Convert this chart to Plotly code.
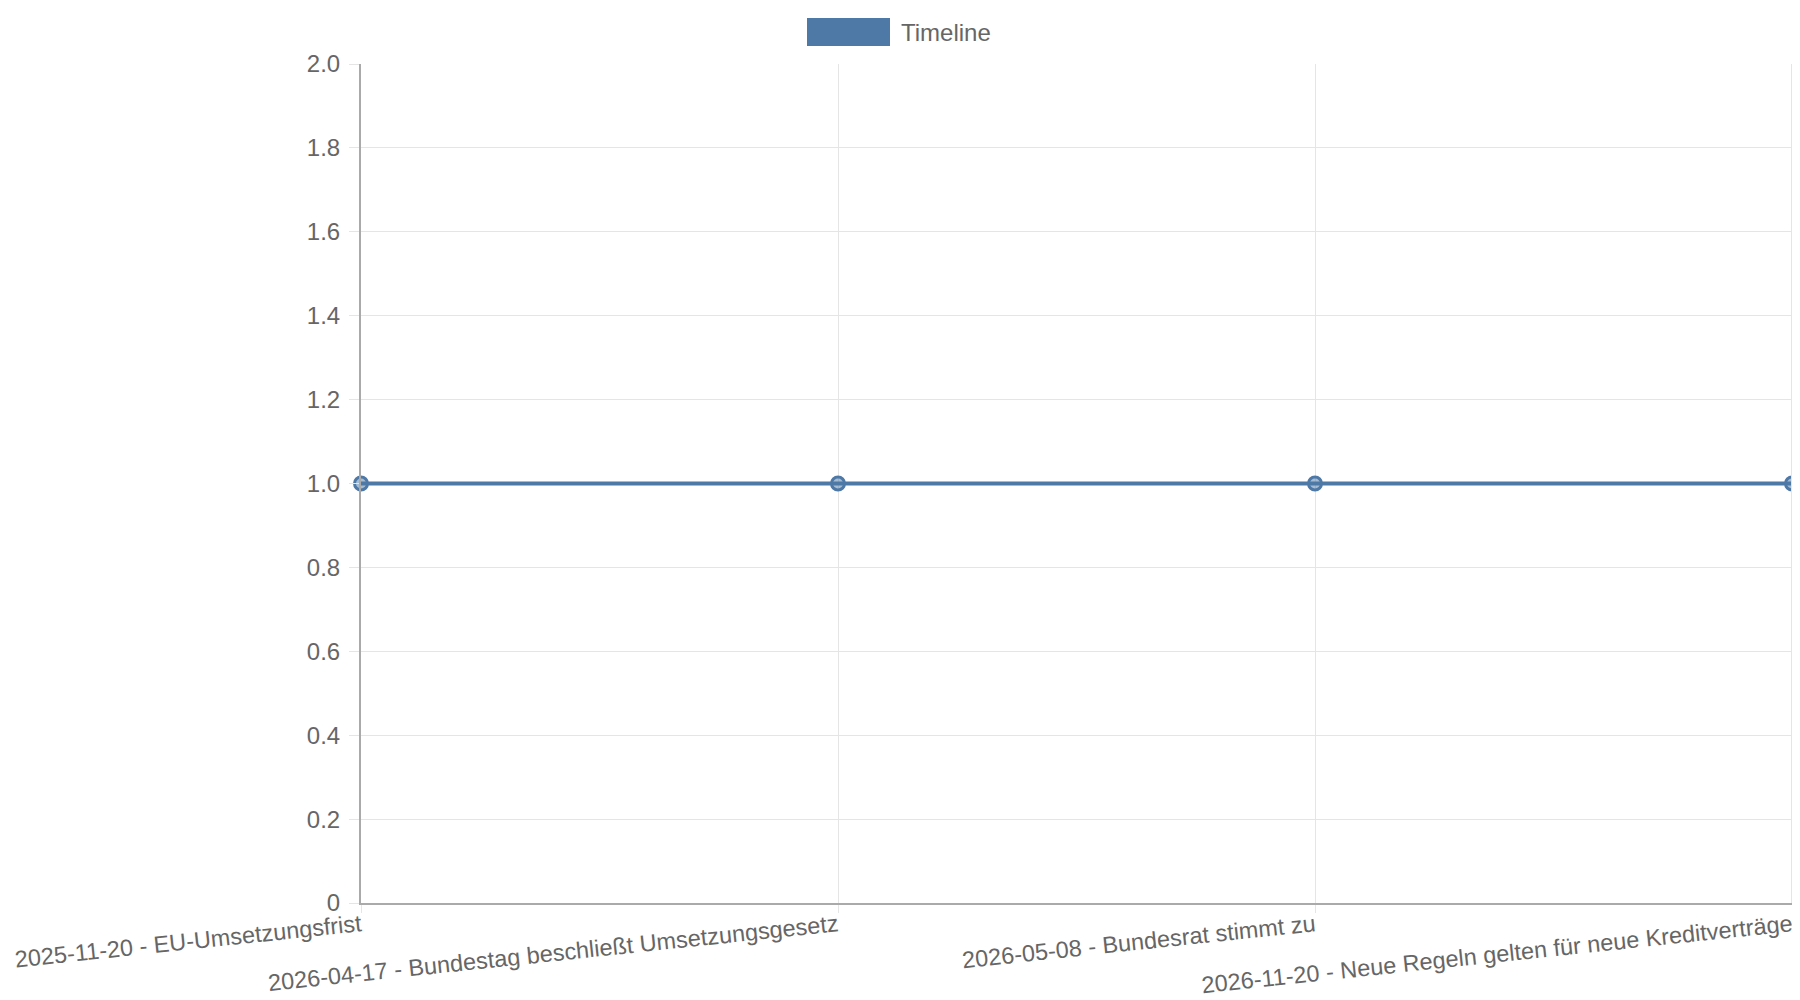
import plotly.graph_objects as go

# Timeline events (category labels) and their plotted value
events = [
    "2025-11-20 - EU-Umsetzungsfrist",
    "2026-04-17 - Bundestag beschließt Umsetzungsgesetz",
    "2026-05-08 - Bundesrat stimmt zu",
    "2026-11-20 - Neue Regeln gelten für neue Kreditverträge",
]
values = [1, 1, 1, 1]

y_tickvals = [0, 0.2, 0.4, 0.6, 0.8, 1.0, 1.2, 1.4, 1.6, 1.8, 2.0]
y_ticktext = ["0", "0.2", "0.4", "0.6", "0.8", "1.0", "1.2", "1.4", "1.6", "1.8", "2.0"]

series_name = "Timeline"
blue = "#4e79a7"
grid = "#e5e5e5"
text_col = "#666666"

W, H = 1800, 1000
ML, MR, MT, MB = 353, 16, 56, 105
plot_w = W - ML - MR
plot_h = H - MT - MB

fig = go.Figure()

fig.add_trace(
    go.Scatter(
        x=list(range(len(events))),
        y=values,
        name=series_name,
        mode="lines+markers",
        cliponaxis=False,
        line=dict(color=blue, width=4),
        marker=dict(
            size=13,
            color="rgba(78,121,167,0.5)",
            line=dict(color=blue, width=3)
        ),
        showlegend=False
    )
)

# legend drawn by hand: wide colour box plus label above the plot
fig.add_shape(
    type="rect", xref="paper", yref="paper",
    x0=446 / plot_w, x1=529 / plot_w,
    y0=1 + 18 / plot_h, y1=1 + 46 / plot_h,
    fillcolor=blue, line=dict(width=0)
)
fig.add_annotation(
    text=series_name, xref="paper", yref="paper",
    x=538 / plot_w, y=1 + 32 / plot_h,
    xanchor="left", yanchor="middle", showarrow=False,
    font=dict(size=24, color=text_col)
)

fig.update_layout(
    width=W,
    height=H,
    margin=dict(l=ML, r=MR, t=MT, b=MB),
    paper_bgcolor="white",
    plot_bgcolor="white",
    font=dict(family="Liberation Sans, Arial, sans-serif", size=24, color=text_col),
    xaxis=dict(
        range=[0, len(events) - 1],
        tickvals=list(range(len(events))),
        ticktext=events,
        tickangle=-6,
        ticklabeloverflow="allow",
        automargin=False,
        showgrid=True,
        gridcolor=grid,
        gridwidth=1,
        zeroline=False,
        showline=True,
        linecolor="#aaaaaa",
        linewidth=2,
        ticks="outside",
        ticklen=8,
        tickcolor=grid,
        ticklabelstandoff=-10,
        tickfont=dict(size=23.5, color=text_col),
    ),
    yaxis=dict(
        range=[0, 2],
        tickvals=y_tickvals,
        ticktext=y_ticktext,
        automargin=False,
        showgrid=True,
        gridcolor=grid,
        gridwidth=1,
        zeroline=False,
        showline=True,
        linecolor="#aaaaaa",
        linewidth=2,
        ticks="outside",
        ticklen=10,
        tickcolor=grid,
        ticklabelstandoff=4,
        tickfont=dict(size=24, color=text_col),
    ),
)

# right-most vertical gridline
fig.add_shape(type="line", xref="paper", yref="paper", x0=1, x1=1, y0=0, y1=1,
              line=dict(color=grid, width=2))

fig.write_html("out.html")
